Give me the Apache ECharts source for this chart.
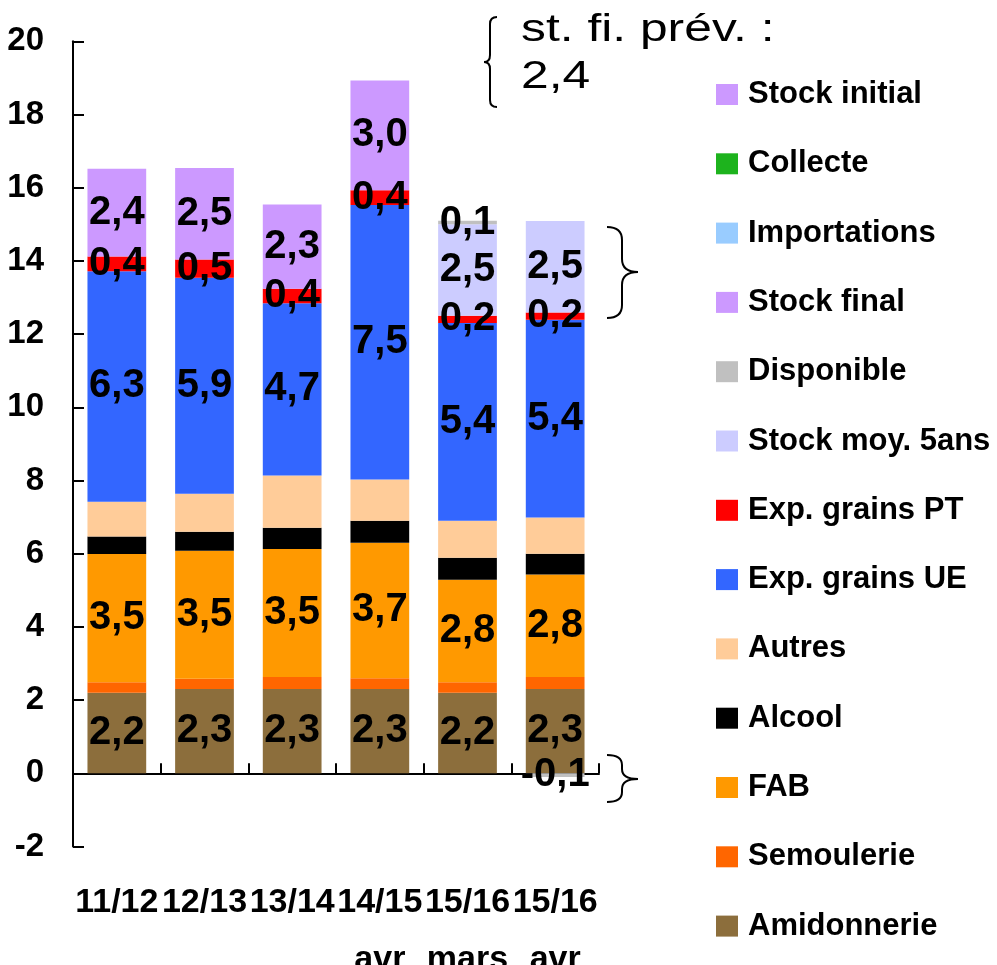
<!DOCTYPE html>
<html>
<head>
<meta charset="utf-8">
<script src="https://cdn.jsdelivr.net/npm/echarts@6/dist/echarts.min.js"></script>
<style>
html,body{margin:0;padding:0;background:#fff;}
#c{width:997px;height:965px;}
</style>
</head>
<body>
<div id="c"></div>
<script>
var categories = ['11/12', '12/13', '13/14', '14/15\navr', '15/16\nmars', '15/16\navr'];
var yTicks = { min: -2, max: 20, interval: 2 };

var amidonnerie = [2.2, 2.3, 2.3, 2.3, 2.2, 2.3];
var semoulerie  = [0.29, 0.28, 0.33, 0.30, 0.29, 0.33];
var fab         = [3.5, 3.5, 3.5, 3.7, 2.8, 2.8];
var alcool      = [0.48, 0.52, 0.58, 0.60, 0.60, 0.57];
var autres      = [0.95, 1.04, 1.43, 1.13, 1.01, 0.99];
var expUE       = [6.3, 5.9, 4.7, 7.5, 5.4, 5.4];
var expPT       = [0.4, 0.5, 0.4, 0.4, 0.2, 0.2];
var stockMoy5   = [null, null, null, null, 2.5, 2.5];
var disponible  = [null, null, null, null, 0.1, -0.1];
var stockFinal  = [2.4, 2.5, 2.3, 3.0, null, null];
var stockInitial= [null, null, null, null, null, null];
var collecte    = [null, null, null, null, null, null];
var importations= [null, null, null, null, null, null];

var FONT = "'Liberation Sans', Arial, sans-serif";

function fmt(p) {
  if (p.value == null || p.value === '-') return '';
  return Number(p.value).toFixed(1).replace('.', ',');
}

function mk(name, data, color, showLabel) {
  return {
    name: name,
    type: 'bar',
    stack: 'total',
    data: data,
    barCategoryGap: '33%',
    itemStyle: { color: color },
    label: {
      show: !!showLabel,
      position: 'inside',
      formatter: fmt,
      color: '#000',
      fontFamily: FONT,
      fontWeight: 'bold',
      fontSize: 40
    },
    emphasis: { disabled: true },
    animation: false
  };
}

var series = [
  mk('Amidonnerie', amidonnerie, '#8C6E3C', true),
  mk('Semoulerie', semoulerie, '#FF6600', false),
  mk('FAB', fab, '#FF9900', true),
  mk('Alcool', alcool, '#000000', false),
  mk('Autres', autres, '#FFCC99', false),
  mk('Exp. grains UE', expUE, '#3366FF', true),
  mk('Exp. grains PT', expPT, '#FF0000', true),
  mk('Stock moy. 5ans', stockMoy5, '#CCCCFF', true),
  mk('Disponible', disponible, '#C0C0C0', true),
  mk('Stock final', stockFinal, '#CC99FF', true),
  mk('Stock initial', stockInitial, '#CC99FF', false),
  mk('Collecte', collecte, '#1DB31D', false),
  mk('Importations', importations, '#99CCFF', false)
];

var legendOrder = ['Stock initial', 'Collecte', 'Importations', 'Stock final', 'Disponible',
  'Stock moy. 5ans', 'Exp. grains PT', 'Exp. grains UE', 'Autres', 'Alcool', 'FAB',
  'Semoulerie', 'Amidonnerie'];

var ST = { stroke: '#000', lineWidth: 2, fill: null };
function bez(ax, ay, cx, cy, bx, by) {
  return { type: 'bezierCurve', silent: true, shape: { x1: ax, y1: ay, cpx1: cx, cpy1: cy, x2: bx, y2: by }, style: ST };
}
function seg(ax, ay, bx, by) {
  return { type: 'line', silent: true, shape: { x1: ax, y1: ay, x2: bx, y2: by }, style: ST };
}
// x0: ends of the arms, xm: spine, x1: tip
function brace(x0, xm, x1, y0, ym, y1, r) {
  return [
    bez(x0, y0, xm, y0, xm, y0 + r),
    seg(xm, y0 + r, xm, ym - r),
    bez(xm, ym - r, xm, ym, x1, ym),
    bez(x1, ym, xm, ym, xm, ym + r),
    seg(xm, ym + r, xm, y1 - r),
    bez(xm, y1 - r, xm, y1, x0, y1)
  ];
}

var graphics = [
  {
    type: 'text', x: 521, y: 7, scaleX: 1.31, silent: true,
    style: { text: 'st. fi. prév. :\n2,4', font: "38px 'Liberation Sans', Arial, sans-serif", fill: '#000', lineHeight: 47, textVerticalAlign: 'top' }
  }
].concat(
  brace(497, 490, 484, 17, 62, 107, 7),
  brace(607, 622, 638, 227, 272, 318, 13),
  brace(607, 622, 638, 755, 779, 802, 10)
);

var chart = echarts.init(document.getElementById('c'), null, { renderer: 'canvas' });
chart.setOption({
  animation: false,
  backgroundColor: '#fff',
  grid: { left: 73, right: 398, top: 41.3, bottom: 118.5, containLabel: false, outerBoundsMode: 'none' },
  legend: {
    orient: 'vertical',
    left: 711,
    top: 74,
    data: legendOrder,
    icon: 'rect',
    itemWidth: 22,
    itemHeight: 21,
    itemGap: 38.3,
    selectedMode: false,
    textStyle: { fontFamily: FONT, fontWeight: 'bold', fontSize: 31, color: '#000', lineHeight: 31, padding: [0, 0, 0, 5] }
  },
  xAxis: {
    type: 'category',
    data: categories,
    axisLine: { onZero: true, lineStyle: { color: '#000', width: 2 } },
    axisTick: { show: true, inside: true, length: 10, lineStyle: { color: '#000', width: 2 } },
    axisLabel: { interval: 0, margin: 28, color: '#000', fontFamily: FONT, fontWeight: 'bold', fontSize: 34, lineHeight: 57 },
    splitLine: { show: false }
  },
  yAxis: {
    type: 'value',
    min: yTicks.min,
    max: yTicks.max,
    interval: yTicks.interval,
    axisLine: { show: true, lineStyle: { color: '#000', width: 2 } },
    axisTick: { show: true, inside: true, length: 11, lineStyle: { color: '#000', width: 2 } },
    axisLabel: { margin: 29, color: '#000', fontFamily: FONT, fontWeight: 'bold', fontSize: 33 },
    splitLine: { show: false }
  },
  series: series,
  graphic: graphics
});
</script>
</body>
</html>
